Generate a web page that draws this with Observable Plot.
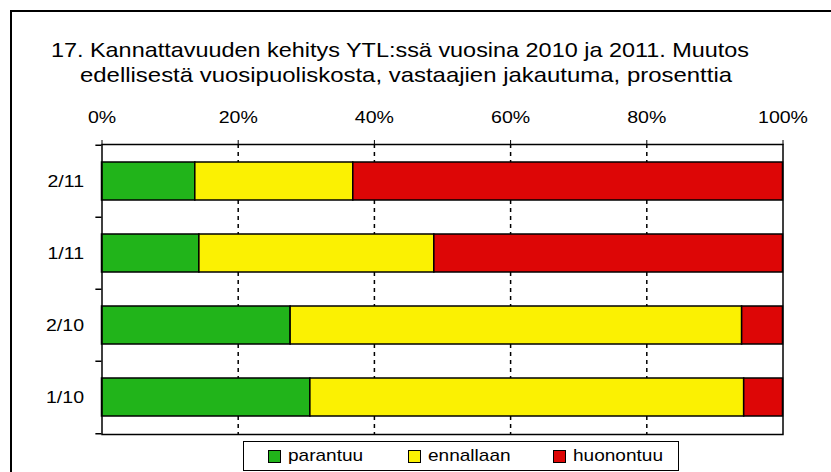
<!DOCTYPE html>
<html>
<head>
<meta charset="utf-8">
<script src="https://cdn.jsdelivr.net/npm/d3@7"></script>
<script src="https://cdn.jsdelivr.net/npm/@observablehq/plot@0.6"></script>
<style>
  html, body { margin: 0; padding: 0; background: #fff; }
  #wrap { position: relative; width: 831px; height: 472px; overflow: hidden; font-family: "Liberation Sans", Arial, sans-serif; }
  #border { position: absolute; left: 10px; top: 10px; width: 900px; height: 600px; border: 2px solid #000; }
  .tline { position: absolute; width: 804px; text-align: center; font-size: 21px; line-height: 25px; color: #000; white-space: nowrap; transform-origin: 402px 50%; }
  #legend { position: absolute; left: 243px; top: 441px; width: 434px; height: 28px; border: 1.5px solid #000; background: #fff; }
  .item { position: absolute; top: 0; height: 28px; display: flex; align-items: center; font-size: 17px; color: #000; }
  .sw { width: 11px; height: 11px; border: 1px solid #000; margin-right: 7px; flex: none; }
  .lt { display: inline-block; transform: scaleX(1.12); transform-origin: 0 50%; }
  #chart { position: absolute; left: 0; top: 0; }
</style>
</head>
<body>
<div id="wrap">
  <div id="border"></div>
  <div id="chart"></div>
  <div id="title"></div>
  <div id="legend"></div>
</div>
<script>
const titleLines = ["17. Kannattavuuden kehitys YTL:ssä vuosina 2010 ja 2011. Muutos", "edellisestä vuosipuoliskosta, vastaajien jakautuma, prosenttia"];
const categories = ["2/11", "1/11", "2/10", "1/10"];
const parantuu = [13.7, 14.3, 27.7, 30.6];
const ennallaan = [23.2, 34.5, 66.3, 63.7];
const huonontuu = [63.1, 51.2, 6.0, 5.7];
const seriesNames = ["parantuu", "ennallaan", "huonontuu"];
const seriesColors = ["#21b41a", "#fbf102", "#dd0606"];
const xTicks = [0, 20, 40, 60, 80, 100];
const gridTicks = [20, 40, 60, 80];
const legendX = [268, 408, 553];

const seriesValues = [parantuu, ennallaan, huonontuu];
const rows = [];
categories.forEach((c, i) => {
  seriesNames.forEach((s, j) => rows.push({cat: c, series: s, value: seriesValues[j][i]}));
});

const chart = Plot.plot({
  width: 831,
  height: 472,
  marginLeft: 101.5,
  marginRight: 48.5,
  marginTop: 144,
  marginBottom: 38,
  style: {fontFamily: "'Liberation Sans', Arial, sans-serif", fontSize: "17px", color: "#000", background: "transparent", overflow: "visible"},
  x: {domain: [0, 100], ticks: xTicks, tickFormat: (d) => d + "%", axis: "top", tickSize: 5, tickPadding: 17, label: null},
  y: {domain: categories, paddingInner: 0.475, paddingOuter: 0.2375, tickSize: 0, tickPadding: 18, label: null},
  color: {domain: seriesNames, range: seriesColors},
  marks: [
    Plot.ruleX(gridTicks, {stroke: "#000", strokeWidth: 1.5, strokeDasharray: "4,4"}),
    Plot.barX(rows, Plot.stackX({x: "value", y: "cat", fill: "series", stroke: "#000", strokeWidth: 1.5, inset: 0})),
    Plot.frame({stroke: "#000", strokeWidth: 1.5}),
    Plot.ruleY(categories, {y: (d) => d, dy: -36.25, x1: -0.9, x2: 0, stroke: "#000", strokeWidth: 1.5}),
    Plot.ruleY(categories.slice(-1), {y: (d) => d, dy: 36.25, x1: -0.9, x2: 0, stroke: "#000", strokeWidth: 1.5})
  ]
});
// widen the axis labels horizontally to match the reference's wide typeface
d3.select(chart).selectAll("g[aria-label$='tick label'] text").each(function () {
  const t = this.getAttribute("transform") || "";
  this.setAttribute("transform", t + " scale(1.15,1)");
});
document.getElementById("chart").appendChild(chart);

const titleBox = document.getElementById("title");
const titleCenters = [399.5, 406];
const titleScale = [1.115, 1.14];
titleLines.forEach((t, i) => {
  const d = document.createElement("div");
  d.className = "tline";
  d.style.left = (titleCenters[i] - 402) + "px";
  d.style.top = (37 + i * 25) + "px";
  d.style.transform = `scaleX(${titleScale[i]})`;
  d.textContent = t;
  titleBox.appendChild(d);
});

const legend = document.getElementById("legend");
seriesNames.forEach((s, i) => {
  const it = document.createElement("div");
  it.className = "item";
  it.style.left = (legendX[i] - 244) + "px";
  it.innerHTML = `<span class="sw" style="background:${seriesColors[i]}"></span><span class="lt">${s}</span>`;
  legend.appendChild(it);
});
</script>
</body>
</html>
